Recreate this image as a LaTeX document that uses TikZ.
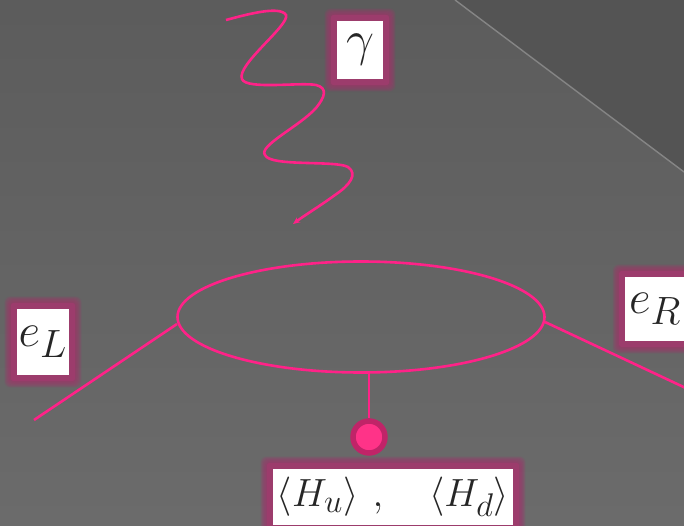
\documentclass[tikz,border=0pt]{standalone}
\usepackage{amsmath}
\usepackage{graphicx}
\usepackage{tikz}
\usetikzlibrary{positioning, arrows.meta, calc, backgrounds, shapes}

\definecolor{fermionpink}{HTML}{FF2288}
\definecolor{glowpink}{HTML}{9C3C6C}
\definecolor{vevpink}{HTML}{FF3388}
\definecolor{vevrim}{HTML}{C02468}

\begin{document}
\begin{tikzpicture}[
	x=1pt, y=-1pt,
	>=Stealth,
	% Style for Labels
	tag/.style={
		rectangle,
		fill=white,
		inner sep=0pt,
		text=black!85,
		align=center,
		font=\Huge
	},
	% Arrow Styles
	fermion/.style={draw=fermionpink, line width=2.6pt},
	boson/.style={fermion, -{Stealth[length=7pt,width=6pt]}},
	% Specific Node Styles
	vev/.style={circle, draw=vevrim, fill=vevpink, line width=5.5pt, minimum size=32pt, inner sep=0pt},
	loopline/.style={ellipse, fermion, minimum width=367pt, minimum height=111pt, inner sep=0pt}
	]
	
	\useasboundingbox (0,0) rectangle (684,526);
	
	% --- LABELS ---
	
	\node[tag, minimum width=46pt, minimum height=58pt] (Gamma) at (360,50) {\scalebox{2}{$\gamma$}};
	\node[tag, minimum width=52pt, minimum height=66pt] (eL) at (43,342) {\scalebox{1.9}{$e_L$}};
	\node[tag, minimum width=62pt, minimum height=64pt, anchor=west] (eR) at (625,309) {\hspace*{-2pt}\scalebox{1.9}{$e_R$}};
	\node[tag, minimum width=240pt, minimum height=56pt] (Vevs) at (393,497) {\scalebox{1.58}{$\langle H_u\rangle$\hspace{9pt}$,$\hspace{29pt}$\langle H_d\rangle$}};
	
	\begin{scope}[on background layer]
		\clip (0,0) rectangle (684,526);
		
		% --- BACKDROP ---
		\fill[top color=black!64, bottom color=black!58] (0,0) rectangle (684,526);
		\coordinate (edgeA) at (455,0);
		\coordinate (edgeB) at (684,172);
		\fill[black!67] (edgeA) -- (edgeB) -- (684,0) -- cycle;
		\draw[black!48, line width=1.4pt] (edgeA) -- (edgeB);
		
		% Soft halo behind each label
		\foreach \lab in {Gamma, eL, eR, Vevs} {
			\foreach \g in {12.5,12,...,5.5} {
				\fill[glowpink, opacity=0.12, rounded corners=6pt]
					($(\lab.south west)+(-\g,\g)$) rectangle ($(\lab.north east)+(\g,-\g)$);
			}
			\fill[glowpink, rounded corners=3pt]
				($(\lab.south west)+(-6,6)$) rectangle ($(\lab.north east)+(6,-6)$);
		}
	\end{scope}
	
	% --- LOOP AND VEV ---
	
	\node[loopline] (Loop) at (361,317) {};
	\node[vev] (Blob) at (369,437) {};
	\coordinate (LoopBottom) at (369,372);
	\draw[fermion] (LoopBottom) -- (Blob);
	
	% --- EXTERNAL LEGS ---
	
	\coordinate (legL) at (34,420);
	\coordinate (legR) at (690,390);
	\coordinate (hitL) at (177,324);
	\coordinate (hitR) at (545,322);
	\draw[fermion] (legL) -- (hitL);
	\draw[fermion] (hitR) -- (legR);
	
	% --- PHOTON ---
	
	\coordinate (photonA) at (226,20);
	\coordinate (photonB) at (293,224);
	\draw[boson] (photonA)
		.. controls (245,15) and (280,5) .. (286,15)
		.. controls (290,25) and (236,65) .. (242,79)
		.. controls (246,90) and (300,82) .. (316,85)
		.. controls (328,88) and (325,97) .. (316,108)
		.. controls (300,126) and (258,146) .. (265,155)
		.. controls (270,167) and (335,160) .. (348,167)
		.. controls (358,174) and (350,185) .. (335,195)
		.. controls (320,206) and (305,215) .. (photonB);
	
\end{tikzpicture}
\end{document}
